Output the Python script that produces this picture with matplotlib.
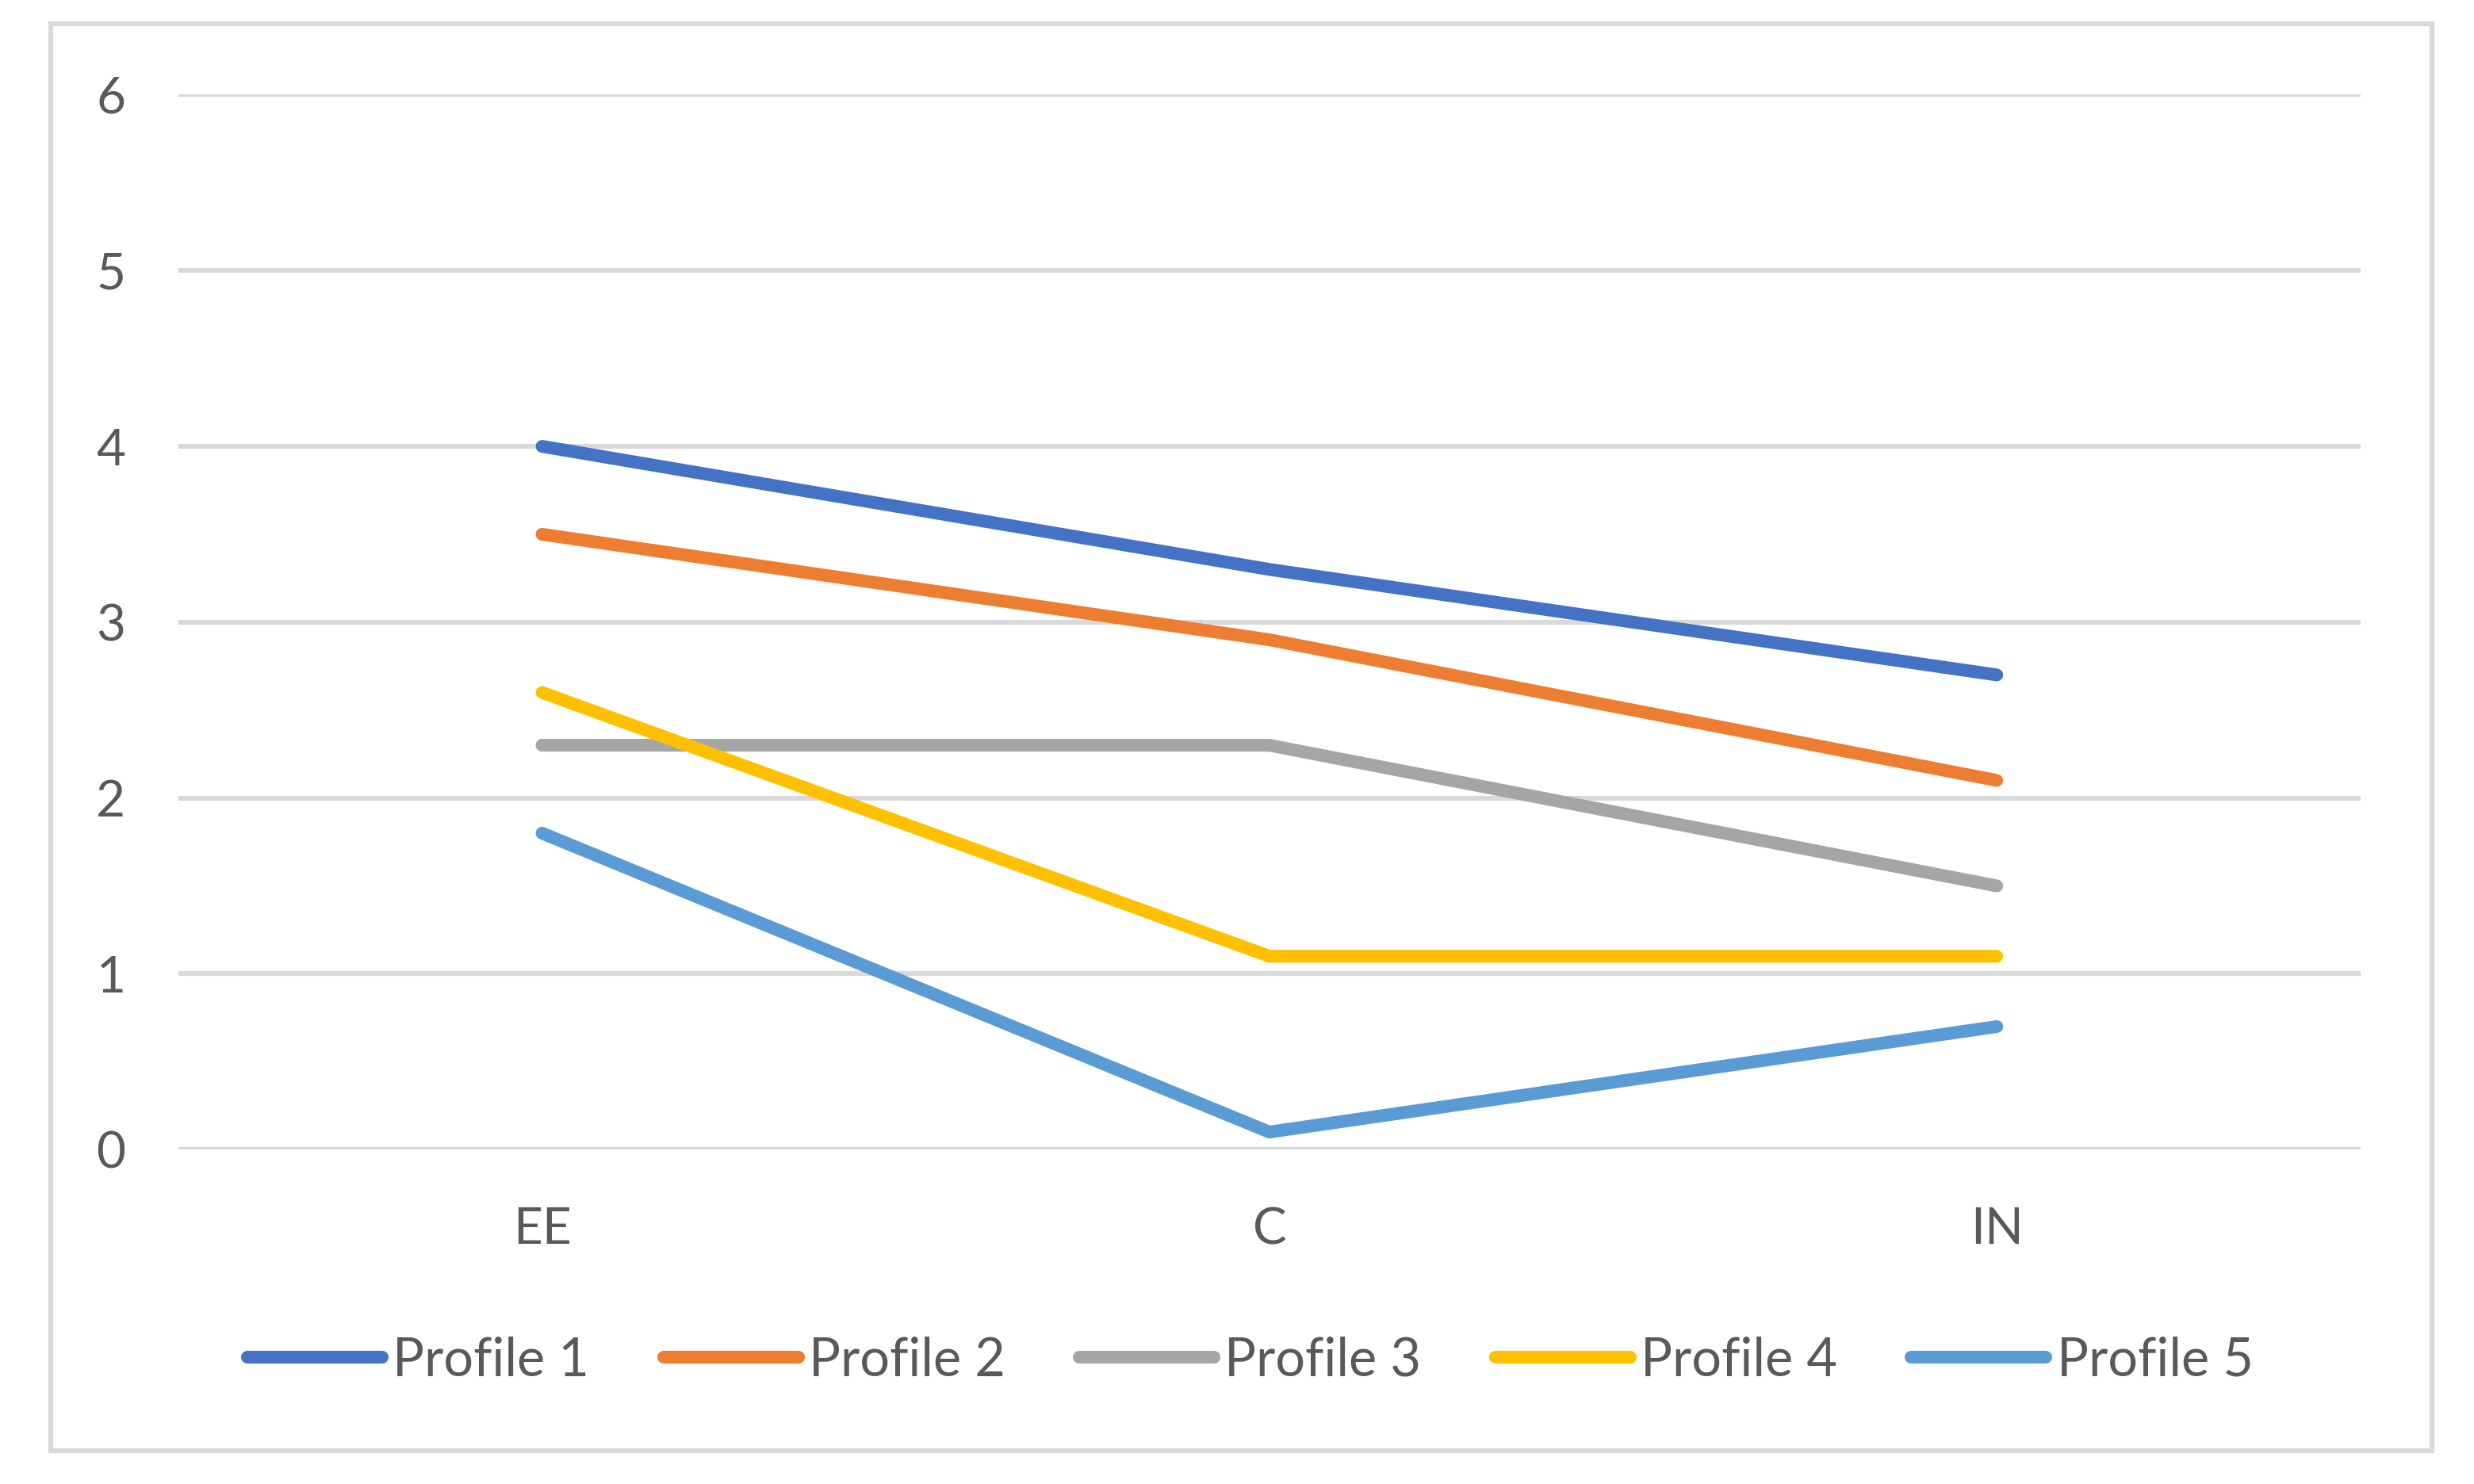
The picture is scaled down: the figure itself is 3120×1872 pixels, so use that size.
#!/usr/bin/python

import matplotlib
matplotlib.use('Agg')
import matplotlib.pyplot as plt
from matplotlib.patches import Rectangle

categories = ['EE', 'C', 'IN']
series_names = ['Profile 1', 'Profile 2', 'Profile 3', 'Profile 4', 'Profile 5']
profile_1 = [4.0, 3.3, 2.7]
profile_2 = [3.5, 2.9, 2.1]
profile_3 = [2.3, 2.3, 1.5]
profile_4 = [2.6, 1.1, 1.1]
profile_5 = [1.8, 0.1, 0.7]
y_ticks = [0, 1, 2, 3, 4, 5, 6]

colors = ['#4472C4', '#ED7D31', '#A5A5A5', '#FFC000', '#5B9BD5']
text_color = '#595959'
grid_color = '#D9D9D9'

plt.rcParams['font.family'] = ['Lato', 'DejaVu Sans']


def main():
    fig = plt.figure(figsize=(15.6, 9.36), dpi=200)
    ax = fig.add_axes([0.0721, 0.2253, 0.9541 - 0.0721, 0.9362 - 0.2253])

    x = list(range(len(categories)))
    for name, vals, col in zip(series_names,
                               [profile_1, profile_2, profile_3, profile_4, profile_5],
                               colors):
        ax.plot(x, vals, color=col, lw=5.8, label=name,
                solid_capstyle='round', solid_joinstyle='round', zorder=3)

    ax.set_xlim(-0.5, 2.5)
    ax.set_ylim(0, 6)
    ax.set_yticks(y_ticks)
    ax.set_xticks(x)
    ax.set_xticklabels(categories)
    ax.yaxis.grid(True, color=grid_color, lw=2.2)
    ax.set_axisbelow(True)
    for s in ax.spines.values():
        s.set_visible(False)
    ax.tick_params(axis='both', length=0, labelsize=23, labelcolor=text_color)
    ax.tick_params(axis='y', pad=24)
    ax.tick_params(axis='x', pad=26)
    # bottom gridline at 0
    ax.axhline(0, color=grid_color, lw=2.2, zorder=1)

    fig.legend(loc='center', bbox_to_anchor=(0.5054, 0.0830), ncol=5,
               frameon=False, fontsize=24, labelcolor=text_color,
               handlelength=2.55, handletextpad=0.2, columnspacing=1.4,
               borderaxespad=0)

    fig.patches.append(Rectangle((0.0204, 0.0223), 0.983 - 0.0204, 0.984 - 0.0223,
                                 transform=fig.transFigure, fill=False,
                                 edgecolor=grid_color, lw=2.2))

    plt.savefig('out.png', dpi=200)
    plt.close()


if __name__ == '__main__':
    main()
